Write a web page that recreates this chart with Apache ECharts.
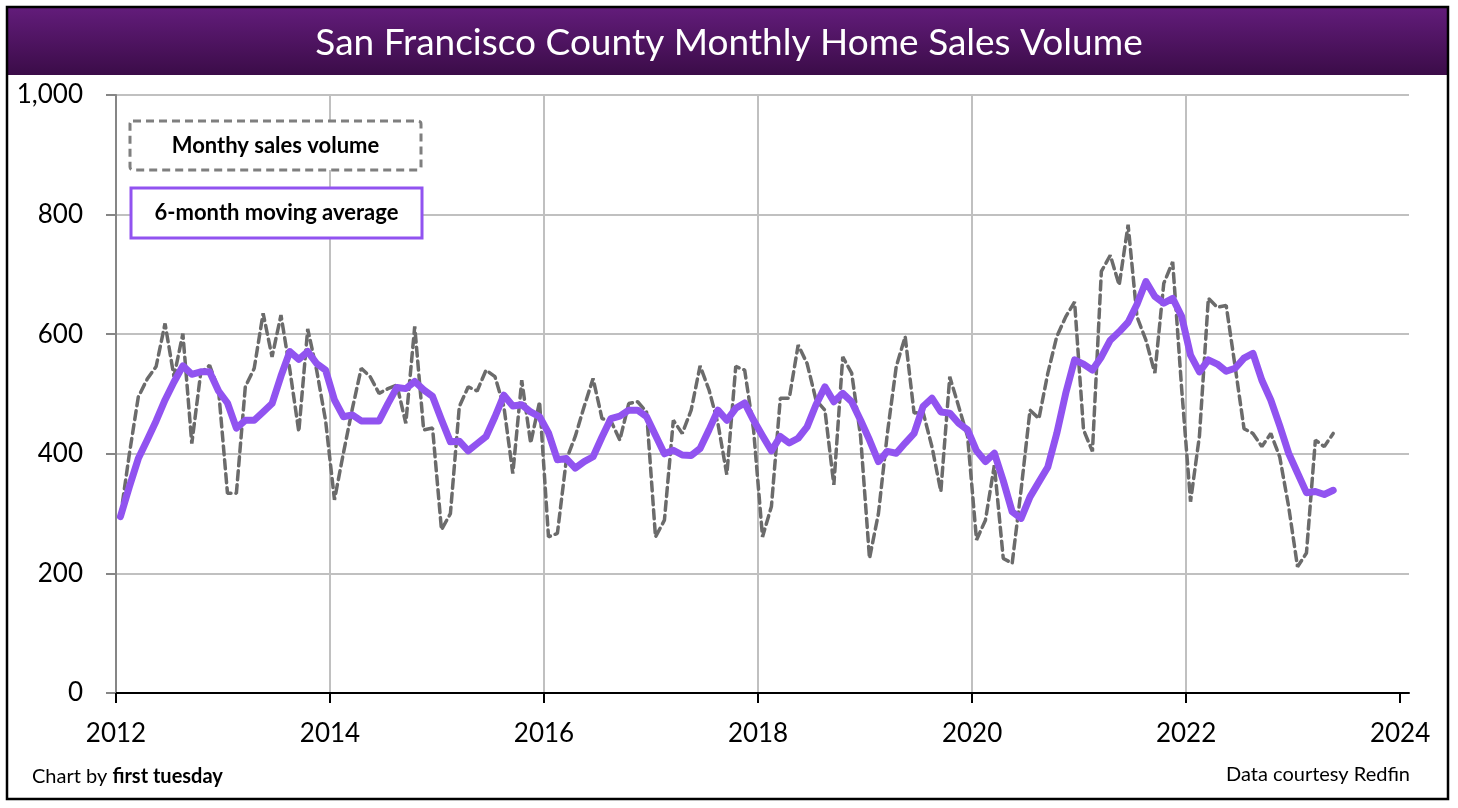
<!DOCTYPE html>
<html>
<head>
<meta charset="utf-8">
<script src="https://cdn.jsdelivr.net/npm/echarts@6/dist/echarts.min.js"></script>
<style>
html,body{margin:0;padding:0;background:#fff;}
#chart{width:1458px;height:808px;}
</style>
</head>
<body>
<div id="chart"></div>
<script>
// ---- DATA ----
const startYear = 2012;
// Monthly sales volume, Jan 2012 .. May 2023
const salesVolume = [
  295, 400, 495, 525, 546, 618, 529, 601, 417, 535, 548, 507,   // 2012
  334, 334, 512, 543, 635, 562, 632, 540, 437, 609, 540, 456,   // 2013
  323, 401, 475, 543, 529, 501, 509, 515, 451, 613, 440, 443,   // 2014
  273, 300, 479, 512, 505, 540, 529, 479, 367, 523, 418, 487,   // 2015
  261, 267, 390, 429, 479, 526, 459, 455, 423, 484, 487, 470,   // 2016
  261, 289, 456, 434, 473, 547, 507, 451, 365, 546, 540, 440,   // 2017
  261, 312, 493, 493, 582, 551, 490, 473, 348, 562, 535, 429,   // 2018
  225, 300, 434, 546, 596, 468, 470, 412, 337, 529, 479, 429,   // 2019
  256, 289, 381, 225, 217, 340, 473, 459, 535, 596, 629, 654,   // 2020
  440, 404, 705, 732, 682, 783, 629, 590, 535, 685, 721, 510,   // 2021
  320, 430, 660, 645, 648, 546, 442, 434, 412, 434, 395, 312,   // 2022
  211, 234, 423, 412, 434                                       // 2023
];
// 6-month moving average, Jan 2012 .. May 2023
const movingAvg = [
  295, 345, 392, 423, 455, 490, 520, 547, 533, 537, 537, 505,   // 2012
  485, 443, 456, 456, 470, 484, 530, 571, 558, 571, 551, 540,   // 2013
  490, 462, 465, 455, 455, 455, 484, 511, 509, 521, 507, 496,   // 2014
  457, 420, 421, 405, 417, 429, 462, 498, 480, 482, 470, 462,   // 2015
  435, 390, 392, 376, 387, 395, 428, 459, 463, 473, 473, 462,   // 2016
  431, 400, 406, 398, 397, 409, 440, 473, 456, 476, 485, 456,   // 2017
  430, 405, 429, 418, 426, 445, 482, 512, 487, 501, 487, 456,   // 2018
  423, 387, 404, 401, 418, 434, 479, 493, 470, 468, 451, 440,   // 2019
  405, 387, 401, 355, 303, 292, 328, 353, 378, 434, 501, 557,   // 2020
  550, 540, 562, 590, 604, 620, 650, 688, 663, 652, 660, 630,   // 2021
  565, 537, 557, 550, 538, 543, 560, 568, 523, 490, 447, 401,   // 2022
  368, 335, 337, 332, 339                                       // 2023
];
const yearTicks = [2012, 2014, 2016, 2018, 2020, 2022, 2024];
const yTicks = [0, 200, 400, 600, 800, 1000];
const seriesNames = ['Monthy sales volume', '6-month moving average'];
const titleText = 'San Francisco County Monthly Home Sales Volume';

// month i -> decimal year (mid-month)
const toX = i => startYear + (i + 0.5) / 12;
const salesData = salesVolume.map((v, i) => [toX(i), v]);
const maData = movingAvg.map((v, i) => [toX(i), v]);

const FONT = 'Lato, "Open Sans", sans-serif';
const chart = echarts.init(document.getElementById('chart'), null, {renderer: 'canvas'});

const option = {
  backgroundColor: '#ffffff',
  animation: false,
  textStyle: {fontFamily: FONT},
  title: {
    text: titleText,
    left: 'center',
    top: 20,
    textStyle: {color: '#ffffff', fontSize: 37, fontWeight: 'normal', fontFamily: FONT}
  },
  grid: {left: 116, right: 49, top: 95, bottom: 115, containLabel: false},
  xAxis: {
    type: 'value',
    min: yearTicks[0],
    max: yearTicks[yearTicks.length - 1] + 1 / 12,
    interval: 2,
    axisLine: {show: true, onZero: false, lineStyle: {color: '#000000', width: 2}},
    axisTick: {show: true, inside: false, length: 10, lineStyle: {color: '#000000', width: 2}, customValues: yearTicks},
    axisLabel: {
      customValues: yearTicks,
      fontSize: 26, color: '#000000', margin: 28, fontFamily: FONT,
      formatter: v => (Number.isInteger(v) ? String(v) : '')
    },
    splitLine: {show: true, showMinLine: false, showMaxLine: false, lineStyle: {color: '#c0c0c0', width: 2}}
  },
  yAxis: {
    type: 'value',
    min: yTicks[0],
    max: yTicks[yTicks.length - 1],
    interval: 200,
    axisLine: {show: true, lineStyle: {color: '#868686', width: 2}},
    axisTick: {show: true, length: 10, lineStyle: {color: '#868686', width: 2}},
    axisLabel: {
      fontSize: 26, color: '#000000', margin: 33, fontFamily: FONT,
      formatter: v => v.toLocaleString('en-US')
    },
    splitLine: {show: true, lineStyle: {color: '#c0c0c0', width: 2}}
  },
  series: [
    {
      name: seriesNames[0],
      type: 'line',
      data: salesData,
      showSymbol: false,
      symbol: 'none',
      z: 3,
      lineStyle: {color: '#6b6b6b', width: 3.5, type: [9, 5], cap: 'round'}
    },
    {
      name: seriesNames[1],
      type: 'line',
      data: maData,
      showSymbol: false,
      symbol: 'none',
      z: 4,
      lineStyle: {color: '#9153f0', width: 7, cap: 'round', join: 'round'}
    }
  ],
  graphic: [
    {
      type: 'rect', z: -10, silent: true,
      shape: {x: 8, y: 8, width: 1440, height: 67},
      style: {
        fill: new echarts.graphic.LinearGradient(0, 0, 0, 1, [
          {offset: 0, color: '#621c7a'},
          {offset: 1, color: '#3b0c48'}
        ])
      }
    },
    {
      type: 'rect', z: 100, silent: true,
      shape: {x: 7, y: 7, width: 1441, height: 792},
      style: {fill: null, stroke: '#000000', lineWidth: 2.5}
    },
    {
      type: 'rect', z: 50, silent: true,
      shape: {x: 130, y: 121, width: 291, height: 49, r: 3},
      style: {fill: '#ffffff', stroke: '#7f7f7f', lineWidth: 3, lineDash: [8, 5]}
    },
    {
      type: 'text', z: 51, silent: true,
      style: {x: 275.5, y: 146, text: seriesNames[0], align: 'center', verticalAlign: 'middle',
              fill: '#000000', font: 'bold 22px ' + FONT}
    },
    {
      type: 'rect', z: 50, silent: true,
      shape: {x: 131, y: 188, width: 291, height: 50},
      style: {fill: '#ffffff', stroke: '#9153f0', lineWidth: 3}
    },
    {
      type: 'text', z: 51, silent: true,
      style: {x: 276.5, y: 213, text: seriesNames[1], align: 'center', verticalAlign: 'middle',
              fill: '#000000', font: 'bold 22px ' + FONT}
    },
    {
      type: 'text', z: 50, silent: true,
      style: {
        x: 32, y: 777, verticalAlign: 'middle', align: 'left',
        text: '{n|Chart by }{b|first tuesday}',
        rich: {
          n: {fontSize: 20, fontFamily: FONT, fill: '#000000', color: '#000000'},
          b: {fontSize: 20, fontFamily: FONT, fontWeight: 'bold', fill: '#000000', color: '#000000'}
        }
      }
    },
    {
      type: 'text', z: 50, silent: true,
      style: {
        x: 1410, y: 775, verticalAlign: 'middle', align: 'right',
        text: 'Data courtesy Redfin',
        font: '20px ' + FONT, fill: '#000000'
      }
    }
  ]
};
chart.setOption(option);
</script>
</body>
</html>
